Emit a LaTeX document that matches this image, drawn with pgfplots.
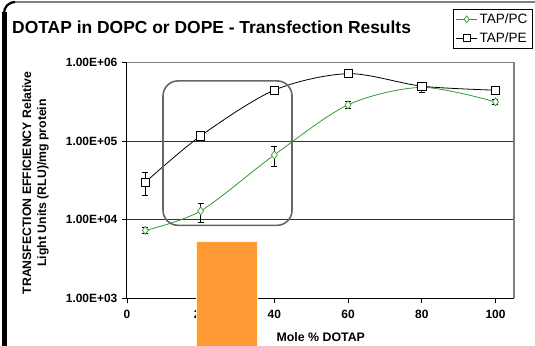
\documentclass[border=0pt]{standalone}
\usepackage{pgfplots}
\pgfplotsset{compat=1.18}
\usepackage{fontspec}
\setmainfont{Liberation Sans}
\definecolor{pcgreen}{RGB}{51,153,51}
\definecolor{orng}{RGB}{255,153,51}
\definecolor{lyel}{RGB}{255,250,200}
\definecolor{brd}{RGB}{128,128,128}
\begin{document}
\begin{tikzpicture}[x=1bp,y=1bp]
\useasboundingbox (0,0) rectangle (535,345);
% outer frame
\draw[brd, line width=1.5bp] (11,343.2) -- (536,343.2);
\draw[black, line width=4.5bp] (4.5,-3) -- (4.5,333);
\draw[black, line width=2.2bp] (4.0,332) arc[start angle=180,end angle=90,radius=11];
% title
\node[anchor=base west, inner sep=0pt, font=\bfseries\fontsize{17.5}{20}\selectfont] at (12,312) {DOTAP in DOPC or DOPE - Transfection Results};
\begin{axis}[
  at={(126.9bp,46.7bp)}, anchor=south west,
  scale only axis, width=387bp, height=236bp,
  ymode=log, xmin=0, xmax=105, ymin=1e3, ymax=1e6,
  xtick={0,20,40,60,80,100},
  ytick={1e3,1e4,1e5,1e6},
  yticklabels={1.00E+03,1.00E+04,1.00E+05,1.00E+06},
  yminorticks=false,
  /pgf/number format/assume math mode=true,
  axis x line*=bottom, axis y line*=left,
  axis line style={black, line width=1.1bp, -},
  tick align=outside, major tick length=5bp,
  tick style={black, line width=0.8bp},
  ymajorgrids, major grid style={black!80, line width=0.9bp},
  ticklabel style={font=\bfseries\fontsize{12}{14}\selectfont},
  xticklabel style={yshift=-3bp},
  yticklabel style={xshift=-1bp},
  xlabel={Mole \% DOTAP},
  xlabel style={font=\bfseries\fontsize{12.4}{14}\selectfont, at={(axis description cs:0.501,-0.163)}, anchor=center},
  ylabel={TRANSFECTION EFFICIENCY Relative\\Light Units (RLU)/mg protein},
  ylabel style={font=\bfseries\fontsize{12.3}{15}\selectfont, align=center, at={(axis description cs:-0.236,0.489)}, anchor=center},
  clip=false,
  legend style={at={(1.0475,1.2265)}, anchor=north east, draw=black, line width=0.6bp,
    font=\fontsize{13.6}{15}\selectfont, inner xsep=2.5bp, inner ysep=2.5bp, row sep=3.5bp, cells={anchor=west}},
  legend image code/.code={\draw[mark repeat=2,mark phase=2,#1, mark size=3.4bp] plot coordinates {(0bp,0bp)(10.5bp,0bp)(21bp,0bp)};},
  error bars/error bar style={black, line width=0.6bp},
  error bars/error mark options={black, rotate=90, mark size=3bp, line width=0.6bp},
]
\draw[brd, line width=1.2bp] (rel axis cs:0,1) -- (rel axis cs:1,1) -- (rel axis cs:1,0);
\addplot[pcgreen, line width=0.8bp, smooth, mark=diamond*, mark size=4bp,
  mark options={fill=white, draw=pcgreen, line width=0.7bp},
  error bars/.cd, y dir=both, y explicit]
  coordinates {
  (5,7300) += (0,600) -= (0,600)
  (20,12900) += (0,3100) -= (0,3600)
  (40,66500) += (0,20000) -= (0,19500)
  (60,288000) += (0,30000) -= (0,30000)
  (80,480000) += (0,70000) -= (0,70000)
  (100,314000) += (0,25000) -= (0,25000)
  };
\addlegendentry{TAP/PC\hspace{9bp}}
\addplot[black, line width=0.8bp, smooth, mark=square*, mark size=4.1bp,
  mark options={fill=white, draw=black, line width=0.7bp},
  error bars/.cd, y dir=both, y explicit]
  coordinates {
  (5,29900) += (0,9500) -= (0,9600)
  (20,116000) += (0,6000) -= (0,6000)
  (40,443000) += (0,20000) -= (0,20000)
  (60,717000) += (0,30000) -= (0,30000)
  (80,497000) += (0,60000) -= (0,60000)
  (100,442000) += (0,25000) -= (0,25000)
  };
\addlegendentry{TAP/PE\hspace{9bp}}
% annotations
\draw[black!60, line width=1.6bp, rounded corners=15bp] (axis cs:9.8,5.8e5) rectangle (axis cs:44.8,8470);
\draw[lyel, fill=orng, line width=1bp] (axis cs:18.75,5310) rectangle (axis cs:35.3,240);
\end{axis}
\end{tikzpicture}
\end{document}
